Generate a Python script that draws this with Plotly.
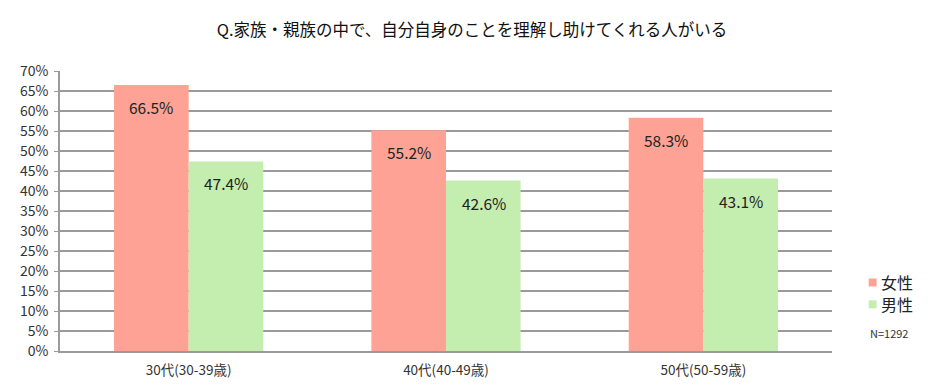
import plotly.graph_objects as go

categories = ["30代(30-39歳)", "40代(40-49歳)", "50代(50-59歳)"]
female = [66.5, 55.2, 58.3]
male = [47.4, 42.6, 43.1]
series_names = ["女性", "男性"]
colors = ["#FDA295", "#C4EEAF"]
title = "Q.家族・親族の中で、自分自身のことを理解し助けてくれる人がいる"
note = "N=1292"

FONT = "Noto Sans CJK JP, Lato, sans-serif"

# figure geometry (page body has 8px margin)
W, H = 937, 383
L, R, T, B = 45, 113, 63, 38
PW, PH = W - L - R, H - T - B

def px_x(x):
    return (x - L) / PW

def px_y(y):
    return (H - B - y) / PH

fig = go.Figure()
for name, vals, col in zip(series_names, [female, male], colors):
    fig.add_trace(go.Bar(x=categories, y=vals, name=name, marker=dict(color=col, line=dict(width=0)),
                         hoverinfo="skip", showlegend=False))

# value labels inside bars near the top
for i, cat in enumerate(categories):
    for k, vals in enumerate([female, male]):
        fig.add_annotation(x=cat, y=vals[i], text=f"{vals[i]:.1f}%", showarrow=False,
                           xshift=(-37.5 if k == 0 else 37.5), yshift=-22,
                           font=dict(size=15.5, color="#222", family=FONT))

# manual legend
for j, (name, col) in enumerate(zip(series_names, colors)):
    cy = 276 + 22 * j
    fig.add_shape(type="rect", xref="paper", yref="paper",
                  x0=px_x(861), x1=px_x(869), y0=px_y(cy + 4), y1=px_y(cy - 4),
                  fillcolor=col, line=dict(width=0))
    fig.add_annotation(text=name, xref="paper", yref="paper", x=px_x(871), y=px_y(cy), xanchor="left",
                       yanchor="middle", showarrow=False, font=dict(size=16, color="#222", family=FONT))

fig.add_annotation(text=note, xref="paper", yref="paper", x=px_x(860), y=px_y(327), xanchor="left",
                   yanchor="middle", showarrow=False, font=dict(size=11, color="#333", family=FONT))

fig.update_layout(
    width=W, height=H,
    margin=dict(l=L, r=R, t=T, b=B),
    paper_bgcolor="white", plot_bgcolor="white",
    title=dict(text=title, x=464 / W, xanchor="center", y=1 - 22 / H, yanchor="middle",
               font=dict(size=16.5, color="#111", family=FONT)),
    barmode="group", bargap=0.42, bargroupgap=0,
    font=dict(family=FONT, color="#333"),
    showlegend=False,
)
fig.update_yaxes(range=[0, 70], dtick=5, ticksuffix="%", showgrid=True, gridcolor="#9a9a9a", gridwidth=1.5,
                 showline=True, linecolor="#9a9a9a", linewidth=1.5, ticks="outside", ticklen=4,
                 tickcolor="#9a9a9a", tickfont=dict(size=14, color="#333", family=FONT), zeroline=False,
                 ticklabelstandoff=3)
fig.update_xaxes(showline=True, linecolor="#9a9a9a", linewidth=2, ticks="", showgrid=False,
                 tickfont=dict(size=13.5, color="#333", family=FONT), ticklabelstandoff=6)

fig.write_html("out.html")
